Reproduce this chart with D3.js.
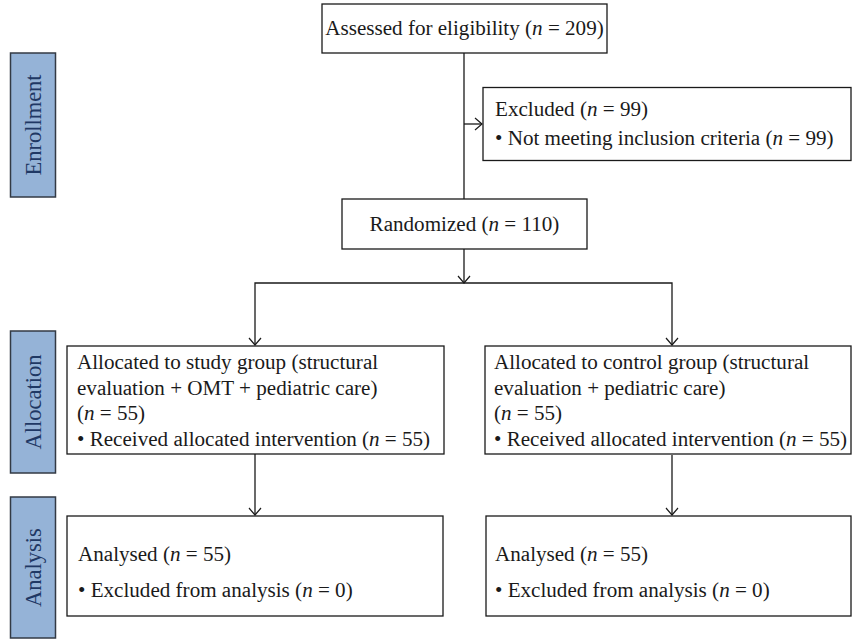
<!DOCTYPE html>
<html>
<head>
<meta charset="utf-8">
<script src="https://cdn.jsdelivr.net/npm/d3@7"></script>
<style>
  body { margin: 0; background: #fff; }
  svg { display: block; }
</style>
</head>
<body>
<div id="chart"></div>
<script>
// values
const stageNames = ['Enrollment', 'Allocation', 'Analysis'];
const screenLabels = ['Assessed for eligibility', 'Excluded', 'Not meeting inclusion criteria', 'Randomized'];
const screenCounts = [209, 99, 99, 110];
const groupHeads = ['Allocated to study group (structural', 'Allocated to control group (structural'];
const groupArms = ['evaluation + OMT + pediatric care)', 'evaluation + pediatric care)'];
const allocatedN = [55, 55];
const receivedN = [55, 55];
const analysedN = [55, 55];
const excludedAnalysisN = [0, 0];

const width = 852, height = 640;
const fontSize = 21.1;
const ink = '#1a1a1a';

// layout
const stageBands = [[53, 197], [331, 473], [497, 638]];
const sideX = 10.5, sideW = 45;
const mainX = 464;
const armX = [255, 672];
const armBox = [{ x: 67, w: 377 }, { x: 485, w: 366 }];
const anaBox = [{ x: 67, w: 376 }, { x: 486, w: 365 }];
const textX = [77, 494];

const svg = d3.select('#chart').append('svg')
  .attr('width', width)
  .attr('height', height)
  .style('font-family', '"Liberation Serif", "Times New Roman", serif');

main();

function main() {
  drawStages();
  drawBoxes();
  drawConnectors();
}

function drawStages() {
  const g = svg.append('g').selectAll('g')
    .data(stageNames).enter()
    .append('g');

  g.append('rect')
    .attr('x', sideX)
    .attr('y', (d, i) => stageBands[i][0])
    .attr('width', sideW)
    .attr('height', (d, i) => stageBands[i][1] - stageBands[i][0])
    .attr('fill', '#95b3d7')
    .attr('stroke', '#333a44')
    .attr('stroke-width', 1.5);

  g.append('text')
    .attr('transform', (d, i) => `translate(${sideX + sideW / 2 + 7.5}, ${(stageBands[i][0] + stageBands[i][1]) / 2}) rotate(-90)`)
    .attr('text-anchor', 'middle')
    .attr('fill', '#1f3864')
    .style('font-size', '22.5px')
    .text((d) => d);
}

// puts a line of text with the "n" in italics
function richLine(sel, str) {
  const parts = str.split(/(\bn(?= = ))/);
  parts.forEach((p, i) => {
    sel.append('tspan')
      .style('font-style', i % 2 === 1 ? 'italic' : 'normal')
      .text(p);
  });
}

function drawBoxes() {
  const boxes = [
    { x: 322, y: 4, w: 285, h: 49, anchor: 'middle',
      lines: [`${screenLabels[0]} (n = ${screenCounts[0]})`], base: [35] },
    { x: 483, y: 87.5, w: 368, h: 73, anchor: 'start', tx: 495,
      lines: [`${screenLabels[1]} (n = ${screenCounts[1]})`, `\u2022 ${screenLabels[2]} (n = ${screenCounts[2]})`], base: [116, 145] },
    { x: 342, y: 199, w: 245, h: 50, anchor: 'middle',
      lines: [`${screenLabels[3]} (n = ${screenCounts[3]})`], base: [231] }
  ];

  groupHeads.forEach((head, i) => {
    boxes.push({
      x: armBox[i].x, y: 346, w: armBox[i].w, h: 108, anchor: 'start', tx: textX[i],
      lines: [head, groupArms[i], `(n = ${allocatedN[i]})`, `\u2022 Received allocated intervention (n = ${receivedN[i]})`],
      base: [369, 395, 420, 446]
    });
    boxes.push({
      x: anaBox[i].x, y: 516, w: anaBox[i].w, h: 100, anchor: 'start', tx: textX[i] + 1,
      lines: [`Analysed (n = ${analysedN[i]})`, `\u2022 Excluded from analysis (n = ${excludedAnalysisN[i]})`],
      base: [561, 597]
    });
  });

  const g = svg.append('g').selectAll('g')
    .data(boxes).enter()
    .append('g');

  g.append('rect')
    .attr('x', (d) => d.x)
    .attr('y', (d) => d.y)
    .attr('width', (d) => d.w)
    .attr('height', (d) => d.h)
    .attr('fill', '#fff')
    .attr('stroke', ink)
    .attr('stroke-width', 1.3);

  g.each(function (d) {
    const box = d3.select(this);
    d.lines.forEach((line, i) => {
      const t = box.append('text')
        .attr('x', d.anchor === 'middle' ? d.x + d.w / 2 : d.tx)
        .attr('y', d.base[i])
        .attr('text-anchor', d.anchor)
        .attr('fill', ink)
        .style('font-size', fontSize + 'px');
      richLine(t, line);
    });
  });
}

function drawConnectors() {
  const line = d3.line();
  const paths = [
    [[mainX, 53], [mainX, 199]],
    [[mainX, 124], [482, 124]],
    [[mainX, 249], [mainX, 283]],
    [[armX[0], 345], [armX[0], 283], [armX[1], 283], [armX[1], 345]],
    [[armX[0], 454], [armX[0], 515]],
    [[armX[1], 455], [armX[1], 515]]
  ];
  const tips = [
    { x: 482, y: 124, dir: 'right' },
    { x: mainX, y: 283, dir: 'down' },
    { x: armX[0], y: 345, dir: 'down' },
    { x: armX[1], y: 345, dir: 'down' },
    { x: armX[0], y: 515, dir: 'down' },
    { x: armX[1], y: 515, dir: 'down' }
  ];

  svg.append('g').selectAll('path')
    .data(paths).enter()
    .append('path')
    .attr('d', (d) => line(d))
    .attr('fill', 'none')
    .attr('stroke', ink)
    .attr('stroke-width', 1.3);

  svg.append('g').selectAll('path')
    .data(tips).enter()
    .append('path')
    .attr('d', (d) => d.dir === 'down'
      ? line([[d.x - 6, d.y - 7], [d.x, d.y], [d.x + 6, d.y - 7]])
      : line([[d.x - 7, d.y - 6], [d.x, d.y], [d.x - 7, d.y + 6]]))
    .attr('fill', 'none')
    .attr('stroke', ink)
    .attr('stroke-width', 1.2);
}
</script>
</body>
</html>
